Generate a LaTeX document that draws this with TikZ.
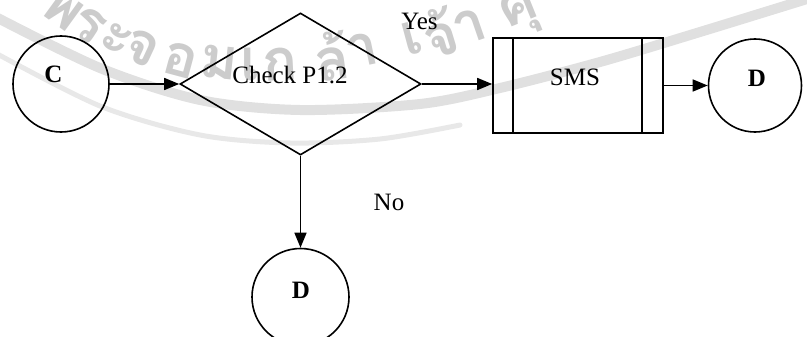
\documentclass[tikz,border=0pt]{standalone}
\usepackage{fontspec}
\setmainfont{Liberation Serif}
\newfontfamily\thaifont[Script=Thai]{Loma}
\usetikzlibrary{shapes.geometric,arrows.meta}
\newcommand\offtext[3]{\raisebox{#2}[\height][\depth]{\hspace*{#1}#3\hspace*{-#1}}}
\begin{document}
\begin{tikzpicture}[x=1pt,y=-1pt,
  shapeline/.style={draw=black,line width=1.6pt},
  txt/.style={font=\fontsize{25}{28}\selectfont},
  term/.style={shapeline,circle,minimum size=#1pt,inner sep=0pt,txt,font=\fontsize{25}{28}\selectfont\bfseries},
  decision/.style={shapeline,diamond,minimum width=241pt,minimum height=142pt,inner sep=0pt,txt},
  process/.style={shapeline,rectangle,minimum width=170pt,minimum height=95pt,inner sep=0pt,txt},
  flow/.style={line width=1.6pt,-{Triangle[length=15pt,width=12pt]}},
  lbl/.style={txt,anchor=base,inner sep=0pt},
  wmtext/.style={text=black!20,font=\thaifont\bfseries\fontsize{58}{62}\selectfont,inner sep=0pt},
  wmband/.style={draw=black!12,line cap=round}
]
\useasboundingbox (0,0) rectangle (807,337);
\begin{scope}
\clip (0,0) rectangle (807,337);
% watermark
\draw[wmband,line width=10pt] plot[smooth] coordinates {(-10,14) (100,68) (200,100) (300,110) (420,104) (500,88) (600,62) (700,32) (820,-5)};
\draw[wmband,line width=5pt,draw=black!9] plot[smooth] coordinates {(-10,50) (100,106) (200,135) (290,143) (380,139) (460,125)};
\foreach \ch/\px/\py/\rot [count=\i] in {พ/63/10/-36, ร/88/25/-33, ะ/116/40/-30, จ/142/48/-25, อ/181/60/-15, ม/219/62/-6, เ/250/64/0, ก/280/64/3, ล้/332/56/8, า/362/50/12, เ/412/38/15, จ้/440/32/17, า/470/27/19, คุ/520/14/22}
  \node[wmtext,rotate=\rot] (wm\i) at (\px,\py) {\ch};
% diagram
\node[term=96] (c) at (61,84) {\offtext{-7.5pt}{9.5pt}{C}};
\node[decision] (dia) at (300.5,84) {\offtext{-10.5pt}{8.5pt}{Check P1.2}};
\node[process] (sms) at (578,85.5) {\offtext{-3pt}{8pt}{SMS}};
\draw[shapeline] ([xshift=21pt]sms.north west) -- ([xshift=21pt]sms.south west);
\draw[shapeline] ([xshift=-22pt]sms.north east) -- ([xshift=-22pt]sms.south east);
\node[term=93] (dr) at (755,85.5) {\offtext{2pt}{7pt}{D}};
\node[term=97] (db) at (300.5,297) {\offtext{0.5pt}{6.5pt}{D}};
\node[lbl] (yes) at (419.5,30) {Yes};
\node[lbl] (no) at (389,210) {No};
\draw[flow] (c) -- (dia.west);
\draw[flow] (dia.east) -- (dia.east -| sms.west);
\draw[flow] (sms.east) -- (dr.west);
\draw[flow] (dia.south) -- (db.north);
\end{scope}
\end{tikzpicture}
\end{document}
